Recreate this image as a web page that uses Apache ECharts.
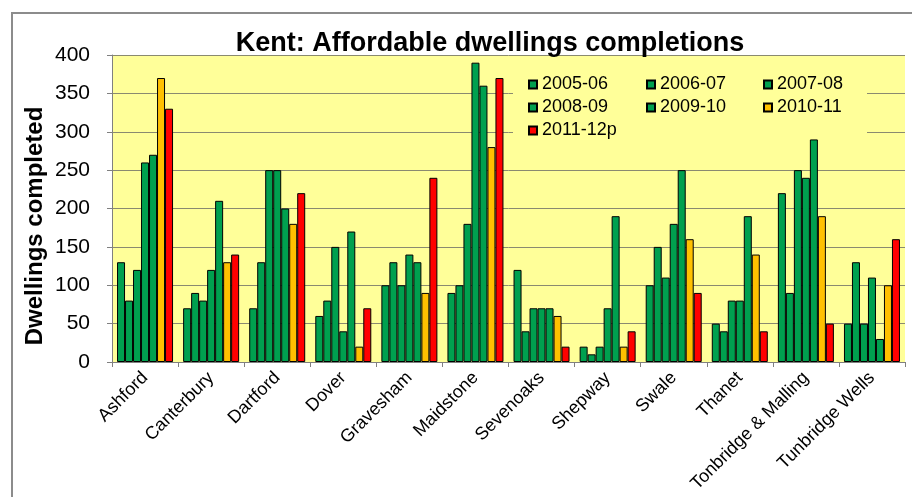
<!DOCTYPE html>
<html>
<head>
<meta charset="utf-8">
<script src="https://cdn.jsdelivr.net/npm/echarts@6/dist/echarts.min.js"></script>
<style>
html,body{margin:0;padding:0;background:#fff;}
#main{width:912px;height:497px;}
</style>
</head>
<body>
<div id="main"></div>
<script>
// districts
var districts = ['Ashford','Canterbury','Dartford','Dover','Gravesham','Maidstone',
	'Sevenoaks','Shepway','Swale','Thanet','Tonbridge & Malling','Tunbridge Wells'];
// completions per year
var y0506 = [130, 70, 70, 60, 100, 90, 120, 20, 100, 50, 220, 50];
var y0607 = [80, 90, 130, 80, 130, 100, 40, 10, 150, 40, 90, 130];
var y0708 = [120, 80, 250, 150, 100, 180, 70, 20, 110, 80, 250, 50];
var y0809 = [260, 120, 250, 40, 140, 390, 70, 70, 180, 80, 240, 110];
var y0910 = [270, 210, 200, 170, 130, 360, 70, 190, 250, 190, 290, 30];
var y1011 = [370, 130, 180, 20, 90, 280, 60, 20, 160, 140, 190, 100];
var y1112 = [330, 140, 220, 70, 240, 370, 20, 40, 90, 40, 50, 160];
var yTicks = [0, 50, 100, 150, 200, 250, 300, 350, 400];

var GREEN = '#00a04f', ORANGE = '#ffc000', RED = '#ff0000';
var FONT = '"Liberation Sans", Arial, sans-serif';

function mkSeries(name, data, color){
	return {
		name: name,
		type: 'bar',
		data: data,
		barWidth: 8,
		barGap: '0%',
		itemStyle: {color: color, borderColor: '#000', borderWidth: 1}
	};
}
function mkLegend(names, left){
	return {
		data: names,
		orient: 'vertical',
		left: left,
		top: 70,
		itemWidth: 8,
		itemHeight: 8,
		itemGap: 4,
		icon: 'rect',
		textStyle: {fontFamily: FONT, fontSize: 18, color: '#000', lineHeight: 19}
	};
}

var chart = echarts.init(document.getElementById('main'));
var option = {
	animation: false,
	backgroundColor: '#fff',
	textStyle: {fontFamily: FONT},
	title: {
		text: 'Kent: Affordable dwellings completions',
		left: 485,
		textAlign: 'center',
		top: 25,
		textStyle: {fontFamily: FONT, fontSize: 27, fontWeight: 'bold', color: '#000'}
	},
	legend: [
		mkLegend(['2005-06','2008-09','2011-12p'], 523),
		mkLegend(['2006-07','2009-10'], 641),
		mkLegend(['2007-08','2010-11'], 758)
	],
	graphic: [
		{type: 'rect', shape: {x: 12, y: 13, width: 930, height: 500},
			style: {fill: null, stroke: '#8c8c8c', lineWidth: 2}, z: -10},
		{type: 'rect', shape: {x: 513, y: 58, width: 354, height: 82},
			style: {fill: '#ffff99'}, z: 1},
		{type: 'text', x: 35, y: 226, rotation: Math.PI / 2,
			style: {text: 'Dwellings completed', fontFamily: FONT, fontSize: 24,
				fontWeight: 'bold', fill: '#000', align: 'center', verticalAlign: 'middle'}}
	],
	grid: {
		left: 112, right: 7, top: 55, bottom: 135,
		show: true, backgroundColor: '#ffff99', borderWidth: 0
	},
	xAxis: {
		type: 'category',
		data: districts,
		axisLine: {lineStyle: {color: '#808080'}},
		axisTick: {show: true, length: 5, lineStyle: {color: '#808080'}},
		axisLabel: {rotate: 45, fontSize: 18, color: '#000', margin: 13, interval: 0}
	},
	yAxis: {
		type: 'value',
		min: 0, max: 400, interval: 50,
		axisLine: {show: true, lineStyle: {color: '#808080'}},
		axisTick: {show: true, length: 5, lineStyle: {color: '#808080'}},
		axisLabel: {fontSize: 21, color: '#000', margin: 22,
			customValues: yTicks},
		splitLine: {lineStyle: {color: '#8a8a70'}}
	},
	series: [
		mkSeries('2005-06', y0506, GREEN),
		mkSeries('2006-07', y0607, GREEN),
		mkSeries('2007-08', y0708, GREEN),
		mkSeries('2008-09', y0809, GREEN),
		mkSeries('2009-10', y0910, GREEN),
		mkSeries('2010-11', y1011, ORANGE),
		mkSeries('2011-12p', y1112, RED)
	]
};
chart.setOption(option);
</script>
</body>
</html>
